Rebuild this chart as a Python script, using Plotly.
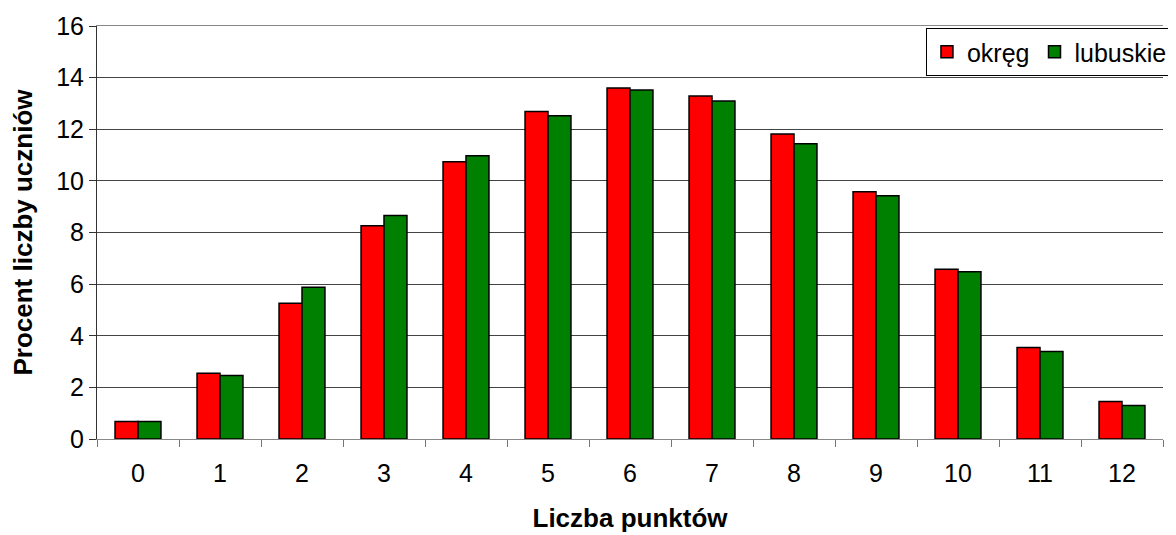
import plotly.graph_objects as go

categories = ["0", "1", "2", "3", "4", "5", "6", "7", "8", "9", "10", "11", "12"]
okreg = [0.68, 2.55, 5.26, 8.26, 10.74, 12.69, 13.60, 13.29, 11.82, 9.58, 6.58, 3.54, 1.45]
lubuskie = [0.68, 2.46, 5.88, 8.66, 10.97, 12.52, 13.52, 13.09, 11.44, 9.42, 6.48, 3.39, 1.30]
y_ticks = [0, 2, 4, 6, 8, 10, 12, 14, 16]

FONT = "Liberation Sans, Arial, sans-serif"

fig = go.Figure()
fig.add_trace(go.Bar(x=categories, y=okreg, name="okręg",
                     marker=dict(color="#FF0000", line=dict(color="black", width=1.5))))
fig.add_trace(go.Bar(x=categories, y=lubuskie, name="lubuskie",
                     marker=dict(color="#008000", line=dict(color="black", width=1.5))))

# page body has an 8px margin, so the figure is shrunk by 8px and margins compensate
fig.update_layout(
    width=1168, height=527,
    margin=dict(l=89, r=13, t=18, b=96, autoexpand=False),
    paper_bgcolor="white", plot_bgcolor="white",
    barmode="group", bargap=0.44, bargroupgap=0,
    font=dict(family=FONT, size=25, color="black"),
    showlegend=True,
    legend=dict(orientation="h", xref="container", yref="container",
                x=0.9974, xanchor="right", y=0.962, yanchor="top",
                bordercolor="black", borderwidth=1, bgcolor="white",
                font=dict(size=25), traceorder="normal",
                itemwidth=30, tracegroupgap=0),
    xaxis=dict(type="category", categoryorder="array", categoryarray=categories,
               ticks="outside", tickson="boundaries", ticklen=7, tickcolor="#777",
               ticklabelstandoff=12,
               showline=True, linecolor="#888", linewidth=1, mirror=True,
               showgrid=False, automargin=False,
               title=dict(text="<b>Liczba punktów</b>", font=dict(size=26), standoff=22)),
    yaxis=dict(range=[0, 16], tickvals=y_ticks, ticks="outside", ticklen=7, tickcolor="#333",
               showline=True, linecolor="#333", linewidth=1, automargin=False,
               showgrid=True, gridcolor="#444", gridwidth=1,
               zeroline=True, zerolinecolor="#333", zerolinewidth=1,
               title=dict(text="<b>Procent liczby uczniów</b>", font=dict(size=26), standoff=18)),
)

fig.write_html("out.html")
